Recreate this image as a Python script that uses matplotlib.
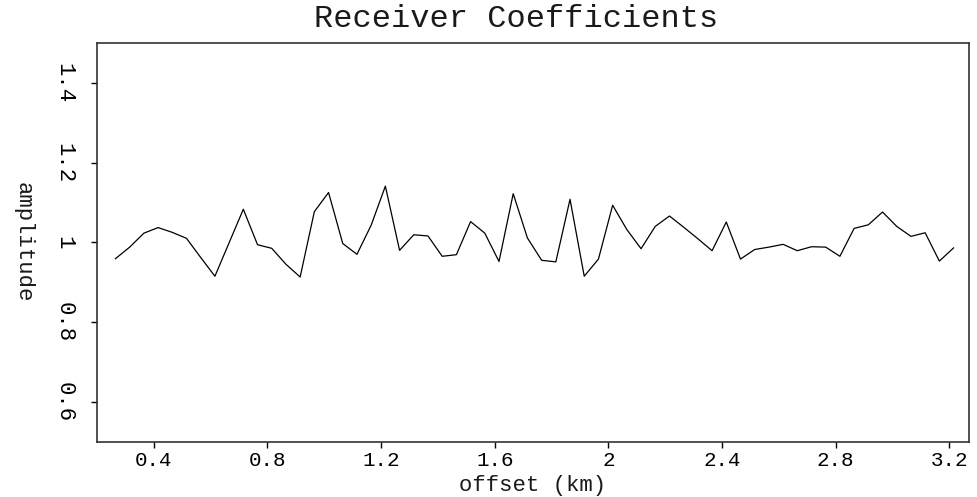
import numpy as np
import matplotlib.pyplot as plt

# Receiver amplitude coefficients sampled along the offset axis
offset_start = 0.265
offset_step = 0.05
amplitude = [0.959, 0.988, 1.023, 1.037, 1.025, 1.010, 0.962, 0.915, 0.999, 1.083,
             0.994, 0.985, 0.945, 0.913, 1.077, 1.125, 0.997, 0.970, 1.043, 1.141,
             0.980, 1.019, 1.016, 0.965, 0.969, 1.052, 1.023, 0.952, 1.122, 1.011,
             0.955, 0.951, 1.108, 0.915, 0.958, 1.093, 1.032, 0.984, 1.040, 1.066,
             1.038, 1.009, 0.979, 1.051, 0.958, 0.982, 0.988, 0.995, 0.979, 0.989,
             0.988, 0.965, 1.035, 1.044, 1.076, 1.040, 1.015, 1.024, 0.953, 0.986]
offset = offset_start + offset_step * np.arange(len(amplitude))

xticks = [0.4, 0.8, 1.2, 1.6, 2.0, 2.4, 2.8, 3.2]
xtick_labels = ["0.4", "0.8", "1.2", "1.6", "2", "2.4", "2.8", "3.2"]
yticks = [0.6, 0.8, 1.0, 1.2, 1.4]
ytick_labels = ["0.6", "0.8", "1", "1.2", "1.4"]

font = "Liberation Mono"
ink = "#1a1a1a"

fig = plt.figure(figsize=(9.77, 4.97), dpi=100)
ax = fig.add_axes([0.0993, 0.1113, 0.8927, 0.8022])

ax.plot(offset, amplitude, color="black", linewidth=0.9)

ax.set_xlim(0.2, 3.27)
ax.set_ylim(0.5, 1.5)

ax.set_xticks(xticks)
ax.set_xticklabels(xtick_labels, family=font, fontsize=15, color=ink)
ax.set_yticks(yticks)
ax.set_yticklabels(ytick_labels, family=font, fontsize=16, color=ink,
                   rotation=-90, va="center")

ax.tick_params(axis="x", direction="out", length=4, width=1, pad=3, colors="black")
ax.tick_params(axis="y", direction="out", length=4, width=1, pad=12, colors="black")

for side in ax.spines.values():
    side.set_linewidth(1.2)
    side.set_color("#333333")

fig.text(0.528, 0.962, "Receiver Coefficients", family=font, fontsize=23,
         color=ink, ha="center", va="center")
fig.text(0.545, 0.002, "offset (km)", family=font, fontsize=16,
         color=ink, ha="center", va="bottom")
fig.text(0.024, 0.513, "amplitude", family=font, fontsize=16,
         color=ink, ha="center", va="center", rotation=-90)

fig.savefig("out.png", dpi=100)
